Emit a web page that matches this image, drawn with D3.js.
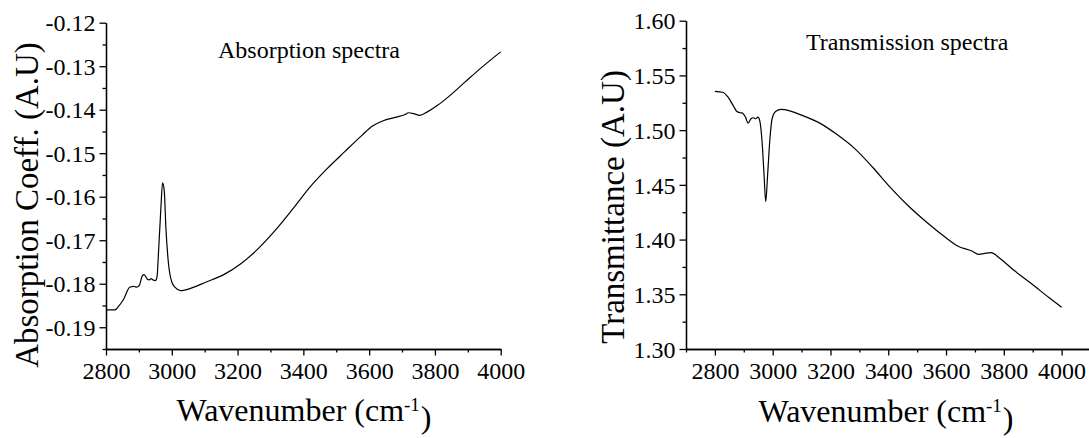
<!DOCTYPE html>
<html>
<head>
<meta charset="utf-8">
<script src="https://cdn.jsdelivr.net/npm/d3@7"></script>
<style>
  html, body { margin: 0; padding: 0; background: #fff; }
  svg { display: block; }
  svg text { font-family: "Liberation Serif", "Times New Roman", serif !important; fill: #000; }
</style>
</head>
<body>
<svg id="chart" width="1089" height="438"></svg>
<script>
// ---------- data ----------
const absWavenumber = [2800, 2827, 2838, 2854, 2872, 2885, 2893, 2901, 2911, 2916, 2925, 2932, 2937, 2942, 2950, 2955, 2960, 2967, 2972, 2977, 2982, 2990, 3000, 3011, 3027, 3042, 3105, 3158, 3210, 3262, 3315, 3368, 3420, 3473, 3525, 3578, 3609, 3641, 3683, 3709, 3720, 3735, 3754, 3777, 3808, 3840, 3892, 3945, 4000];
const absorption = [-0.1860, -0.1860, -0.1852, -0.1835, -0.1808, -0.1806, -0.1808, -0.1804, -0.1781, -0.1779, -0.1789, -0.1791, -0.1788, -0.1791, -0.1793, -0.1785, -0.1723, -0.1624, -0.1568, -0.1585, -0.1670, -0.1754, -0.1796, -0.1809, -0.1816, -0.1814, -0.1796, -0.1779, -0.1754, -0.1720, -0.1677, -0.1628, -0.1578, -0.1535, -0.1497, -0.1459, -0.1438, -0.1426, -0.1417, -0.1411, -0.1407, -0.1409, -0.1413, -0.1405, -0.1390, -0.1371, -0.1336, -0.1301, -0.1267];

const transWavenumber = [2800, 2827, 2845, 2863, 2876, 2888, 2896, 2906, 2915, 2925, 2933, 2941, 2949, 2955, 2963, 2970, 2976, 2982, 2990, 2998, 3010, 3029, 3041, 3102, 3163, 3224, 3285, 3346, 3407, 3469, 3530, 3591, 3640, 3689, 3713, 3731, 3756, 3786, 3835, 3896, 3957, 4000];
const transmittance = [1.5355, 1.5346, 1.5303, 1.5226, 1.5171, 1.5159, 1.5156, 1.5119, 1.5064, 1.5104, 1.5113, 1.5104, 1.5119, 1.5089, 1.4905, 1.4599, 1.4346, 1.4569, 1.4905, 1.5104, 1.5171, 1.5190, 1.5187, 1.5135, 1.5064, 1.4957, 1.4829, 1.4661, 1.4477, 1.4309, 1.4165, 1.4034, 1.3942, 1.3896, 1.3865, 1.3872, 1.3881, 1.3829, 1.3719, 1.3596, 1.3468, 1.3382];

const xTickValues = [2800, 3000, 3200, 3400, 3600, 3800, 4000];
const xTickLabels = ["2800", "3000", "3200", "3400", "3600", "3800", "4000"];
const absYTickValues = [-0.19, -0.18, -0.17, -0.16, -0.15, -0.14, -0.13, -0.12];
const absYTickLabels = ["-0.19", "-0.18", "-0.17", "-0.16", "-0.15", "-0.14", "-0.13", "-0.12"];
const transYTickValues = [1.30, 1.35, 1.40, 1.45, 1.50, 1.55, 1.60];
const transYTickLabels = ["1.30", "1.35", "1.40", "1.45", "1.50", "1.55", "1.60"];

const absTitle = "Absorption spectra";
const transTitle = "Transmission spectra";
const absYLabel = "Absorption Coeff. (A.U)";
const transYLabel = "Transmittance (A.U)";

// ---------- drawing ----------
const svg = d3.select("#chart");
const serif = '"Liberation Serif", "Times New Roman", serif';
const tickFont = 24;

function panel(cfg) {
  const g = svg.append("g");
  const x = d3.scaleLinear().domain(cfg.xDomain).range(cfg.xRange);
  const y = d3.scaleLinear().domain(cfg.yDomain).range(cfg.yRange);

  // minor ticks
  const xMinor = d3.axisBottom(x).tickValues(cfg.xMinor).tickFormat("").tickSize(3.5).tickSizeOuter(0);
  const yMinor = d3.axisLeft(y).tickValues(cfg.yMinor).tickFormat("").tickSize(3.5).tickSizeOuter(0);
  g.append("g").attr("transform", `translate(0,${cfg.yRange[0]})`).call(xMinor);
  g.append("g").attr("transform", `translate(${cfg.xRange[0]},0)`).call(yMinor);

  // major axes
  const xAxis = d3.axisBottom(x).tickValues(xTickValues)
    .tickFormat((d, i) => xTickLabels[i]).tickSize(6.5).tickSizeOuter(0).tickPadding(6);
  const yAxis = d3.axisLeft(y).tickValues(cfg.yTicks)
    .tickFormat((d, i) => cfg.yLabels[i]).tickSize(6.5).tickSizeOuter(0).tickPadding(4);
  const gx = g.append("g").attr("transform", `translate(0,${cfg.yRange[0]})`).call(xAxis);
  const gy = g.append("g").attr("transform", `translate(${cfg.xRange[0]},0)`).call(yAxis);

  g.selectAll("g").attr("font-family", serif).attr("font-size", tickFont);
  g.selectAll(".domain, .tick line").attr("stroke", "#000").attr("stroke-width", 1.3);
  g.selectAll(".tick text")
    .style("font-family", serif)
    .style("font-size", tickFont + "px")
    .attr("fill", "#000");
  gy.selectAll(".tick text").attr("dy", "0.34em");

  // curve
  const line = d3.line()
    .x((d, i) => x(cfg.xs[i]))
    .y(d => y(d))
    .curve(d3.curveMonotoneX);
  g.append("path")
    .datum(cfg.ys)
    .attr("fill", "none")
    .attr("stroke", "#000")
    .attr("stroke-width", 1.2)
    .attr("d", line);

  // in-plot title
  g.append("text")
    .attr("x", cfg.titlePos[0]).attr("y", cfg.titlePos[1])
    .style("font-family", serif)
    .style("font-size", "24px")
    .text(cfg.title);

  // y label
  g.append("text")
    .attr("transform", `translate(${cfg.yLabelPos[0]},${cfg.yLabelPos[1]}) rotate(-90)`)
    .attr("text-anchor", "middle")
    .style("font-family", serif)
    .style("font-size", "33px")
    .text(cfg.yLabel);

  // x label with superscript
  const xt = g.append("text")
    .attr("x", cfg.xLabelPos[0]).attr("y", cfg.xLabelPos[1])
    .attr("text-anchor", "middle")
    .style("font-family", serif)
    .style("font-size", "32px");
  xt.append("tspan").text("Wavenumber (cm");
  xt.append("tspan").attr("dy", "-0.55em").style("font-size", "19px").text("-1");
  xt.append("tspan").attr("dy", "0.55em").attr("dx", "1").text(")");
}

panel({
  xDomain: [2800, 4000], xRange: [106, 500.7],
  yDomain: [-0.195, -0.12], yRange: [349, 22.7],
  xMinor: [2900, 3100, 3300, 3500, 3700, 3900],
  yMinor: [-0.195, -0.185, -0.175, -0.165, -0.155, -0.145, -0.135, -0.125],
  yTicks: absYTickValues, yLabels: absYTickLabels,
  xs: absWavenumber, ys: absorption,
  title: absTitle, titlePos: [218, 58],
  yLabel: absYLabel, yLabelPos: [38, 205],
  xLabelPos: [304, 421]
});

panel({
  xDomain: [2700, 4100], xRange: [686, 1090.5],
  yDomain: [1.30, 1.60], yRange: [349, 20.7],
  xMinor: [2700, 2900, 3100, 3300, 3500, 3700, 3900],
  yMinor: [1.325, 1.375, 1.425, 1.475, 1.525, 1.575],
  yTicks: transYTickValues, yLabels: transYTickLabels,
  xs: transWavenumber, ys: transmittance,
  title: transTitle, titlePos: [806, 50],
  yLabel: transYLabel, yLabelPos: [624, 207],
  xLabelPos: [886, 422]
});
</script>
</body>
</html>
